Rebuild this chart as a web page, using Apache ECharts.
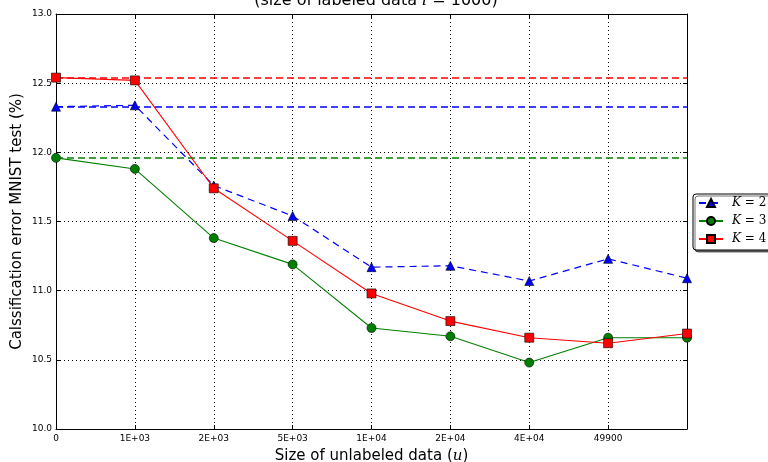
<!DOCTYPE html>
<html>
<head>
<meta charset="utf-8">
<script src="https://cdn.jsdelivr.net/npm/echarts@6/dist/echarts.min.js"></script>
<style>html,body{margin:0;padding:0;background:#fff}#c{width:768px;height:462px}</style>
</head>
<body>
<div id="c"></div>
<script>
var categories = ['0', '1E+03', '2E+03', '5E+03', '1E+04', '2E+04', '4E+04', '49900', ''];
var yTicks = [10.0, 10.5, 11.0, 11.5, 12.0, 12.5, 13.0];
var seriesNames = ['K=2', 'K=3', 'K=4'];
var k2 = [12.33, 12.34, 11.76, 11.54, 11.17, 11.18, 11.07, 11.23, 11.09];
var k3 = [11.96, 11.88, 11.38, 11.19, 10.73, 10.67, 10.48, 10.66, 10.66];
var k4 = [12.54, 12.52, 11.74, 11.36, 10.98, 10.78, 10.66, 10.62, 10.69];
var baselines = [12.33, 11.96, 12.54];

var chart = echarts.init(document.getElementById('c'), null, {renderer: 'canvas'});
var font = 'DejaVu Sans';
function baseLine(v, color) {
  return {
    silent: true, symbol: ['none', 'none'], label: {show: false},
    emphasis: {disabled: true},
    lineStyle: {color: color, type: [7, 4], width: 1.6, opacity: 1},
    data: [{yAxis: v, lineStyle: {color: color}}]
  };
}
var option = {
  backgroundColor: '#fff',
  animation: false,
  title: {
    text: '(size of labeled data {i|l} = 1000)',
    left: 371, textAlign: 'center', top: -12,
    textStyle: {fontFamily: font, fontSize: 16, fontWeight: 'normal', color: '#000',
      rich: {i: {fontFamily: 'DejaVu Serif', fontStyle: 'italic', fontSize: 16}}}
  },
  grid: {left: 56, right: 81, top: 14, bottom: 33, outerBoundsMode: 'none', containLabel: false},
  legend: {
    orient: 'vertical', left: 693, top: 194,
    padding: [3, 40, 5, 5], itemGap: 6, itemWidth: 24, itemHeight: 10,
    backgroundColor: '#fff', borderColor: '#000', borderWidth: 1, borderRadius: 3,
    shadowColor: 'rgba(0,0,0,0.55)', shadowOffsetX: 2, shadowOffsetY: 2, shadowBlur: 0,
    data: seriesNames,
    formatter: function (n) { return '{i|K} = ' + n.split('=')[1]; },
    textStyle: {fontFamily: 'DejaVu Serif', fontSize: 12, color: '#000', padding: [0, 0, 0, 4],
      rich: {i: {fontFamily: 'DejaVu Serif', fontStyle: 'italic', fontSize: 12}}}
  },
  xAxis: [{
    type: 'category', data: categories, boundaryGap: false,
    name: 'Size of unlabeled data ({i|u})', nameLocation: 'middle', nameGap: 20,
    nameMoveOverlap: false,
    nameTextStyle: {fontFamily: font, fontSize: 15, color: '#000',
      rich: {i: {fontFamily: 'DejaVu Serif', fontStyle: 'italic', fontSize: 15}}},
    axisLine: {lineStyle: {color: '#000', width: 1}},
    axisTick: {inside: true, length: 4, lineStyle: {color: '#000'}, alignWithLabel: true},
    axisLabel: {fontFamily: font, fontSize: 9, color: '#000', margin: 5, interval: 0},
    splitLine: {show: true, lineStyle: {color: '#000', type: [1, 3], width: 1}}
  }, {
    type: 'category', data: categories, boundaryGap: false, position: 'top',
    axisLine: {lineStyle: {color: '#000', width: 1}},
    axisTick: {inside: true, length: 4, lineStyle: {color: '#000'}},
    axisLabel: {show: false}, splitLine: {show: false}
  }],
  yAxis: [{
    type: 'value', min: 10, max: 13, interval: 0.5,
    name: 'Calssification error MNIST test (%)', nameLocation: 'middle', nameGap: 31,
    nameMoveOverlap: false,
    nameTextStyle: {fontFamily: font, fontSize: 15, color: '#000'},
    axisLine: {show: true, lineStyle: {color: '#000', width: 1}},
    axisTick: {show: true, inside: true, length: 4, lineStyle: {color: '#000'}},
    axisLabel: {fontFamily: font, fontSize: 9, color: '#000', margin: 4,
      formatter: function (v) { return v.toFixed(1); }},
    splitLine: {show: true, lineStyle: {color: '#000', type: [1, 3], width: 1}}
  }, {
    type: 'value', min: 10, max: 13, interval: 0.5, position: 'right',
    axisLine: {show: true, lineStyle: {color: '#000', width: 1}},
    axisTick: {show: true, inside: true, length: 4, lineStyle: {color: '#000'}},
    axisLabel: {show: false}, splitLine: {show: false}
  }],
  series: [{
    name: seriesNames[0], type: 'line', data: k2, color: '#0000ff',
    symbol: 'triangle', symbolSize: 9,
    lineStyle: {color: '#0000ff', width: 1.2, type: [7, 5]},
    itemStyle: {color: '#0000ff', borderColor: '#000', borderWidth: 0.6},
    markLine: baseLine(baselines[0], '#0000ff'), z: 3
  }, {
    name: seriesNames[1], type: 'line', data: k3, color: '#008000',
    symbol: 'circle', symbolSize: 9,
    lineStyle: {color: '#008000', width: 1.1},
    itemStyle: {color: '#008000', borderColor: '#000', borderWidth: 0.6},
    markLine: baseLine(baselines[1], '#008000'), z: 4
  }, {
    name: seriesNames[2], type: 'line', data: k4, color: '#ff0000',
    symbol: 'rect', symbolSize: 9,
    lineStyle: {color: '#ff0000', width: 1.1},
    itemStyle: {color: '#ff0000', borderColor: '#000', borderWidth: 0.6},
    markLine: baseLine(baselines[2], '#ff0000'), z: 5
  }]
};
chart.setOption(option);
</script>
</body>
</html>
